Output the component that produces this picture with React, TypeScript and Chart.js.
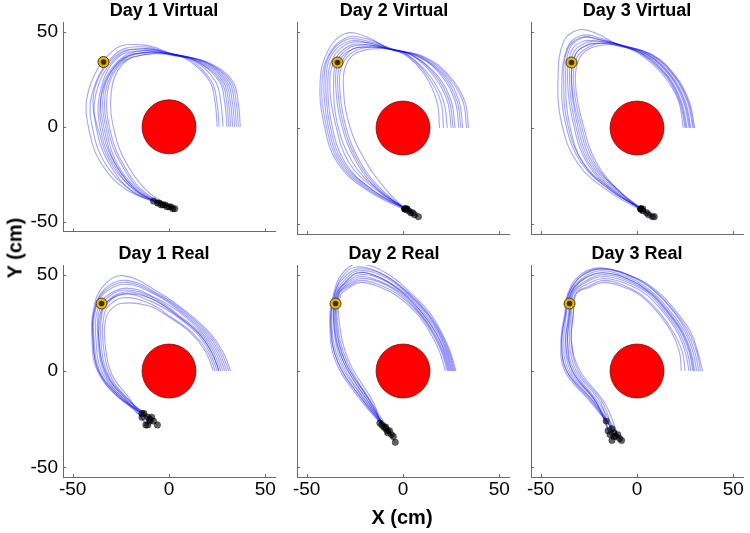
import React, { useEffect, useRef } from "react";
import { Chart, registerables } from "chart.js";

Chart.register(...registerables);

// ---------- data ----------
const AXIS_MIN = -55;
const AXIS_MAX = 55;
const TICK_VALUES = [-50, 0, 50];
const OBSTACLE_CENTER = [0, 0];
const OBSTACLE_RADIUS = 14;

const PANEL_TITLES = [
  "Day 1 Virtual",
  "Day 2 Virtual",
  "Day 3 Virtual",
  "Day 1 Real",
  "Day 2 Real",
  "Day 3 Real",
];

const D1_VIRTUAL_TARGET = [-34, 34];
const D2_VIRTUAL_TARGET = [-34, 34];
const D3_VIRTUAL_TARGET = [-34, 34];
const D1_REAL_TARGET = [-35, 35];
const D2_REAL_TARGET = [-35, 35];
const D3_REAL_TARGET = [-35, 35];

const D1_VIRTUAL_TRAJ = [
  [[37, 0], [36, 12], [33, 24], [21, 33.5], [3, 38], [-14, 43], [-29, 40], [-42, 18], [-41, -4], [-34, -21], [-22, -33], [-8, -39]],
  [[25, 0], [24, 12], [21, 24], [10, 35], [2, 38], [-13, 39], [-26, 34], [-34, 18], [-32, -4], [-26, -21], [-15, -34], [0, -42]],
  [[33, 0], [32, 12], [29, 24], [17, 34], [2, 38], [-13, 41], [-27, 37], [-38, 17], [-37, -4], [-30, -21], [-19, -34], [-4, -41]],
  [[35, 0], [34, 12], [31, 24], [19, 34], [2.5, 37.5], [-12, 38], [-24, 33], [-30, 18], [-28, -4], [-21, -21], [-11, -34], [3, -43]],
  [[30, 0], [29, 12], [26, 24], [14, 34.5], [2, 38], [-14, 42], [-28, 38], [-40, 17], [-39, -4], [-32, -21], [-20, -33], [-6, -40]],
  [[36, 0], [35, 12], [32, 24], [20, 33.5], [3, 38], [-13, 40], [-26, 35], [-35, 18], [-33, -4], [-27, -21], [-16, -34], [-1, -42]],
  [[28, 0], [27, 12], [24, 24], [13, 34.5], [1.5, 38], [-13, 41], [-28, 37], [-39, 18], [-36, -4], [-29, -21], [-18, -33], [-5, -40]],
  [[34, 0], [33, 12], [30, 24], [18, 34], [2, 38], [-12, 39], [-25, 34], [-33, 18], [-31, -4], [-24, -21], [-14, -34], [1, -42]],
  [[26, 0], [25, 12], [22, 24], [11, 35], [2, 37.5], [-13, 40], [-27, 36], [-36, 17], [-35, -4], [-28, -21], [-17, -34], [-2, -41]],
  [[32, 0], [31, 12], [28, 24], [16, 34], [2.5, 38], [-12, 38], [-25, 33], [-32, 18], [-30, -4], [-23, -21], [-13, -34], [2, -43]],
  [[31, 0], [30, 12], [27, 24], [15, 34], [2, 38], [-12, 39], [-25, 35], [-35, 17], [-34, -4], [-27, -21], [-16, -34], [-3, -41]],
];

const D2_VIRTUAL_TRAJ = [
  [[34, 0], [32, 14], [24, 27], [11, 37], [-7, 41], [-18, 47], [-30, 49], [-39, 40], [-43, 24], [-41, 2], [-34, -18], [-19, -32], [6, -45]],
  [[19, 0], [17.5, 14], [11, 28], [1, 38], [-8, 41], [-16, 42], [-26, 41], [-33, 35], [-35, 24], [-32, 2], [-24, -18], [-12, -33], [1, -42]],
  [[31, 0], [29, 14], [22, 27], [9, 37], [-7, 41], [-17, 44], [-28, 44], [-36, 37], [-39, 24], [-37, 2], [-30, -18], [-16, -32], [1, -42]],
  [[27, 0], [25, 14], [18, 27], [6, 37], [-7, 41], [-16, 41], [-24, 39], [-29, 34], [-31, 24], [-28, 2], [-19, -18], [-8, -33], [1, -42]],
  [[33, 0], [31, 14], [23, 27], [10, 37], [-7, 41.5], [-18, 46], [-29, 47], [-38, 39], [-42, 24], [-40, 2], [-33, -18], [-18, -32], [1, -42]],
  [[23, 0], [21, 14], [14, 27], [3, 37.5], [-6, 41], [-18, 45], [-29, 46], [-38, 38], [-41, 24], [-39, 2], [-32, -18], [-17, -32], [3, -43]],
  [[29, 0], [27, 14], [20, 27], [8, 37], [-7, 41], [-17, 43], [-27, 42], [-34, 35], [-36, 24], [-34, 2], [-26, -18], [-13, -32], [8, -46]],
  [[21, 0], [19.5, 14], [12, 28], [2, 38], [-7, 41], [-17, 43], [-27, 43], [-35, 36], [-38, 24], [-35, 2], [-28, -18], [-14, -32], [2, -42]],
  [[30, 0], [28, 14], [21, 27], [8.5, 37], [-7, 41], [-17, 44], [-28, 45], [-37, 38], [-40, 24], [-38, 2], [-31, -18], [-16, -32], [2, -42]],
  [[25, 0], [23, 14], [16, 27], [5, 37.5], [-6, 41], [-16, 42], [-25, 40], [-31, 34], [-33, 24], [-30, 2], [-22, -18], [-10, -33], [4, -44]],
  [[26, 0], [24, 14], [17, 27], [5.5, 37.5], [-7, 41], [-17, 42], [-26, 41], [-32, 34], [-34, 24], [-31, 2], [-23, -18], [-11, -33], [5, -44]],
];

const D3_VIRTUAL_TRAJ = [
  [[30, 0], [27, 14], [20, 27], [8, 38], [-10, 43.5], [-21, 49], [-30, 51], [-38, 45], [-41, 25], [-39, 2], [-31, -18], [-16, -32], [8, -46]],
  [[24, 0], [21.5, 14], [14, 27], [2, 38], [-10, 43.5], [-19, 44], [-26, 43], [-32, 38], [-34, 24], [-31, 2], [-24, -18], [-10, -33], [2, -42]],
  [[28, 0], [25, 14], [18, 27], [6, 38], [-10, 43.5], [-20, 46], [-28, 47], [-35, 41], [-37, 24], [-35, 2], [-28, -18], [-13, -33], [3, -42]],
  [[26, 0], [23, 14], [16, 27], [4, 38], [-11, 43], [-19, 44], [-26, 43], [-32, 38], [-34, 24], [-30, 2], [-23, -18], [-9, -33], [6, -45]],
  [[29, 0], [26, 14], [19, 27], [7, 38], [-10, 43.5], [-20, 47], [-29, 48], [-36, 42], [-39, 24], [-37, 2], [-29, -18], [-14, -32], [2, -42]],
  [[25, 0], [22, 14], [15, 27], [3, 38], [-10, 43.5], [-19, 44], [-25, 42], [-31, 37], [-33, 24], [-29, 2], [-22, -18], [-9, -33], [9, -46]],
  [[27, 0], [24, 14], [17, 27], [5, 38], [-11, 43], [-19, 45], [-27, 44], [-33, 39], [-35, 24], [-32, 2], [-25, -18], [-11, -33], [5, -44]],
  [[29.5, 0], [26.5, 14], [19.5, 27], [7.5, 38], [-10, 43.5], [-20, 46], [-29, 47], [-36, 41], [-38, 24], [-36, 2], [-28, -18], [-13, -32], [3, -43]],
  [[25.5, 0], [22.5, 14], [15.5, 27], [3.5, 38], [-10, 43], [-18, 43], [-25, 41], [-30, 36], [-32, 24], [-28, 2], [-21, -18], [-8, -34], [2, -42]],
  [[27.5, 0], [24.5, 14], [17.5, 27], [5.5, 38], [-10, 43.5], [-20, 45], [-28, 45], [-34, 40], [-36, 24], [-33, 2], [-26, -18], [-12, -33], [2, -42]],
];

const D1_REAL_TRAJ = [
  [[32, 0], [28, 10], [21, 20], [10, 30], [-4, 40], [-24, 49.5], [-35, 43], [-39.5, 30], [-40, 18], [-38, 2], [-28, -12], [-13, -22]],
  [[30, 0], [26, 10], [19, 20], [8, 30], [-5, 39], [-22, 46], [-34, 41], [-39, 30], [-39.5, 18], [-37, 1], [-27, -13], [-11, -24]],
  [[29, 0], [25, 10], [18, 20], [7, 30], [-6, 39], [-22, 45], [-34, 40], [-38.5, 30], [-39, 18], [-36, 0], [-26, -13], [-14, -22]],
  [[28, 0], [24, 10], [17, 20], [6, 30], [-7, 38], [-22, 43], [-33.5, 38], [-37.5, 30], [-38, 18], [-35, 0], [-25, -13], [-10, -26]],
  [[27, 0], [23, 10], [16, 20], [5, 29], [-8, 38], [-23, 42], [-33, 37], [-36.5, 30], [-37, 18], [-34, 0], [-24, -14], [-8, -26]],
  [[26, 0], [22, 10], [15, 20], [4, 29], [-8, 37], [-23, 41], [-33, 35], [-35.5, 28], [-36.5, 18], [-33, -1], [-23, -14], [-11, -28]],
  [[25, 0], [21, 10], [14, 20], [3, 29], [-9, 36], [-24, 40], [-33, 34], [-35, 28], [-35.5, 18], [-32, -1], [-22, -14], [-6, -28]],
  [[24, 0], [20, 10], [12, 20], [1, 28], [-10, 35], [-24, 38], [-32, 33], [-34, 27], [-34.5, 18], [-31, -1], [-21, -15], [-10, -25]],
  [[23, 0], [19, 10], [11, 20], [0, 28], [-11, 34], [-25, 35], [-31, 31], [-33, 26], [-33.5, 18], [-30, -1], [-20, -15], [-12, -28]],
  [[31, 0], [27, 10], [20, 20], [9, 30], [-4, 39], [-22, 47], [-34, 42], [-39, 30], [-39.5, 18], [-37, 1], [-27, -12], [-14, -24]],
  [[26, 0], [22, 10], [15, 20], [4, 29], [-8, 37], [-22, 40], [-32, 36], [-36, 29], [-36.5, 18], [-33, 0], [-23, -14], [-9, -24]],
];

const D2_REAL_TRAJ = [
  [[27.5, 0], [24.5, 10], [20, 20], [14, 30], [4.5, 40], [-9, 51], [-24, 55.5], [-32, 50], [-36, 40], [-38, 25], [-35, 5], [-22, -15], [-11, -28]],
  [[27, 0], [24, 10], [19.5, 20], [13, 30], [3.5, 40], [-10, 50], [-23, 53], [-31, 48], [-35.5, 40], [-37.5, 25], [-34, 5], [-21, -15], [-9, -30]],
  [[26, 0], [23, 10], [18.5, 20], [12, 30], [2.5, 40], [-10, 49], [-23, 52], [-30.5, 47], [-35, 40], [-37, 25], [-33, 5], [-20, -15], [-8, -31]],
  [[25.5, 0], [22.5, 10], [18, 20], [11, 30], [1.5, 40], [-11, 48], [-23, 51], [-30, 46], [-34.5, 40], [-36, 25], [-32, 5], [-19, -16], [-6, -33]],
  [[25, 0], [22, 10], [17, 20], [10, 30], [0.5, 40], [-11, 47.5], [-22, 50], [-29.5, 45.5], [-34, 40], [-35.5, 25], [-31, 5], [-18, -16], [-4, -37]],
  [[24, 0], [21, 10], [16, 20], [9, 30], [-0.5, 40], [-12, 46.5], [-22, 49], [-29, 45], [-33.5, 40], [-35, 25], [-30, 5], [-17, -16], [-10, -29]],
  [[23, 0], [20, 10], [15, 20], [8, 30], [-1.5, 39], [-13, 45], [-22, 47], [-28, 44], [-33, 40], [-34, 25], [-29, 5], [-16, -17], [-7, -31]],
  [[22, 0], [19, 10], [14, 20], [7, 30], [-2.5, 38.5], [-13, 44], [-22, 46], [-27.5, 43.5], [-32.5, 39], [-33, 25], [-28, 5], [-15, -17], [-12, -27]],
  [[26.5, 0], [23.5, 10], [19, 20], [12.5, 30], [3, 40], [-10, 50], [-24, 54], [-31.5, 49], [-35.5, 40], [-37.5, 25], [-34, 5], [-21, -15], [-5, -34]],
  [[24.5, 0], [21.5, 10], [17, 20], [10, 30], [0.5, 40], [-11, 48], [-23, 51], [-30, 46], [-34.5, 40], [-36, 25], [-31, 5], [-18, -16], [-9, -29]],
  [[23.5, 0], [20.5, 10], [15.5, 20], [8.5, 30], [-1, 39.5], [-12, 46], [-22, 48], [-28.5, 44.5], [-33.5, 40], [-34.5, 25], [-30, 5], [-17, -16], [-8, -32]],
];

const D3_REAL_TRAJ = [
  [[34, 0], [31.5, 10], [28, 20], [21, 30], [12, 40], [0, 48], [-19, 53.5], [-30, 49.5], [-36, 40], [-37.5, 30], [-39.5, 15], [-37.5, 0], [-25, -15], [-16, -26]],
  [[32, 0], [30, 10], [26, 20], [19.5, 30], [10.5, 40], [-1, 48], [-18, 53], [-29, 49], [-35.5, 40], [-37, 30], [-39, 15], [-36.5, 0], [-23.5, -16], [-13, -30]],
  [[31, 0], [29, 10], [25, 20], [18, 30], [9, 40], [-2, 47.5], [-18, 52], [-28.5, 48], [-35, 40], [-36.5, 30], [-38, 15], [-35.5, 0], [-22.5, -16], [-12, -32]],
  [[30, 0], [28, 10], [24, 20], [17, 30], [8, 40], [-3, 47], [-18, 51], [-28, 47.5], [-34.5, 40], [-35.5, 30], [-37, 15], [-34.5, 0], [-21.5, -16], [-11, -34]],
  [[29, 0], [27, 10], [23, 20], [16, 30], [7, 40], [-4, 46.5], [-17, 50], [-27, 46.5], [-34, 40], [-35, 30], [-36, 15], [-33.5, 0], [-20.5, -17], [-13, -36]],
  [[28, 0], [26, 10], [22, 20], [15, 30], [6, 40], [-5, 46], [-17, 49], [-26.5, 46], [-33.5, 40], [-34.5, 30], [-36, 15], [-32.5, 0], [-19.5, -17], [-9, -35]],
  [[27, 0], [25, 10], [21, 20], [14, 30], [5, 39.5], [-5, 45], [-17, 48], [-26, 45], [-33, 40], [-34, 30], [-35, 15], [-31.5, 0], [-18.5, -17], [-15, -31]],
  [[25, 0], [23.5, 10], [19, 20], [12, 30], [3, 39], [-6, 44], [-17, 47], [-25, 44], [-32, 40], [-33, 30], [-34, 15], [-29.5, 0], [-16.5, -17], [-10, -33]],
  [[33, 0], [31, 10], [27, 20], [20, 30], [11, 40], [0, 48], [-19, 53], [-29.5, 49], [-35.5, 40], [-37, 30], [-39, 15], [-36.5, 0], [-23.5, -15], [-8, -36]],
  [[29.5, 0], [27.5, 10], [23.5, 20], [16.5, 30], [7.5, 40], [-3, 47], [-18, 51], [-28, 47.5], [-34.5, 40], [-35, 30], [-37, 15], [-33.5, 0], [-21.5, -16], [-14, -33]],
  [[23, 0], [22, 10], [18, 20], [11, 30], [2, 39], [-7, 43.5], [-17, 46], [-24.5, 43.5], [-31.5, 40], [-33, 30], [-34, 15], [-30.5, 0], [-17.5, -17], [-12, -34]],
];

const PANEL_TRAJ = [D1_VIRTUAL_TRAJ, D2_VIRTUAL_TRAJ, D3_VIRTUAL_TRAJ, D1_REAL_TRAJ, D2_REAL_TRAJ, D3_REAL_TRAJ];
const PANEL_TARGET = [D1_VIRTUAL_TARGET, D2_VIRTUAL_TARGET, D3_VIRTUAL_TARGET, D1_REAL_TARGET, D2_REAL_TARGET, D3_REAL_TARGET];

// ---------- layout ----------
const PLOT_SIZE = 212;
const COL_PLOT_LEFT = [63, 297, 531];
const COL_PAD_LEFT = [63, 45, 12];
const COL_TITLE_OFFSET = [-5, -9, 0];
const PAD_RIGHT = 6;
const ROW_PLOT_TOP = [22, 265];
const PAD_TOP = 22;
const ROW_PAD_BOTTOM = [14, 30];

const FONT = '"Liberation Sans", Arial, Helvetica, sans-serif';
const AXIS_COLOR = "#6a6a6a";

const panelDecor = {
  id: "panelDecor",
  afterDraw(chart: any, _args: any, opts: any) {
    const { ctx, chartArea, scales } = chart;
    const x = scales.x;
    const y = scales.y;
    ctx.save();
    ctx.strokeStyle = AXIS_COLOR;
    ctx.lineWidth = 1;
    TICK_VALUES.forEach((v) => {
      const px = Math.round(x.getPixelForValue(v)) + 0.5;
      ctx.beginPath();
      ctx.moveTo(px, chartArea.bottom);
      ctx.lineTo(px, chartArea.bottom - 3);
      ctx.stroke();
      const py = Math.round(y.getPixelForValue(v)) + 0.5;
      ctx.beginPath();
      ctx.moveTo(chartArea.left, py);
      ctx.lineTo(chartArea.left + 3, py);
      ctx.stroke();
    });
    ctx.fillStyle = "#000";
    ctx.font = `bold 18px ${FONT}`;
    ctx.textAlign = "center";
    ctx.textBaseline = "middle";
    ctx.fillText(opts.text, (chartArea.left + chartArea.right) / 2 + opts.offset, chartArea.top - 11);
    ctx.restore();
  },
};

function Panel({ index }: { index: number }) {
  const ref = useRef<HTMLCanvasElement>(null);
  const col = index % 3;
  const row = Math.floor(index / 3);
  const padL = COL_PAD_LEFT[col];
  const padB = ROW_PAD_BOTTOM[row];
  const width = padL + PLOT_SIZE + PAD_RIGHT;
  const height = PAD_TOP + PLOT_SIZE + padB;
  const left = COL_PLOT_LEFT[col] - padL;
  const top = ROW_PLOT_TOP[row] - PAD_TOP;
  const showY = col === 0;
  const showX = row === 1;

  useEffect(() => {
    const traj = PANEL_TRAJ[index];
    const target = PANEL_TARGET[index];
    const pt = (p: number[]) => ({ x: p[0], y: p[1] });
    const datasets: any[] = [];
    datasets.push({
      label: "target center",
      data: [pt(target)],
      pointRadius: 2.8,
      pointBackgroundColor: "#3b2d05",
      pointBorderWidth: 0,
      order: -1,
    });
    datasets.push({
      label: "target",
      data: [pt(target)],
      pointRadius: 5.5,
      pointBackgroundColor: "#e8b400",
      pointBorderColor: "#4a3800",
      pointBorderWidth: 1,
      order: 0,
    });
    datasets.push({
      label: "end points",
      data: traj.map((t) => pt(t[t.length - 1])),
      pointRadius: 3.2,
      pointBackgroundColor: "rgba(0,0,0,0.6)",
      pointBorderColor: "rgba(0,0,0,0.35)",
      pointBorderWidth: 1,
      order: 1,
    });
    datasets.push({
      label: "obstacle",
      data: [pt(OBSTACLE_CENTER)],
      pointRadius: (c: any) => {
        const s = c.chart.scales.x;
        return Math.abs(s.getPixelForValue(OBSTACLE_RADIUS) - s.getPixelForValue(0));
      },
      pointBackgroundColor: "#ff0000",
      pointBorderColor: "#6b0000",
      pointBorderWidth: 0.7,
      order: 2,
    });
    traj.forEach((t, i) => {
      datasets.push({
        label: "trial " + (i + 1),
        data: t.map(pt),
        showLine: true,
        borderColor: "rgba(10,10,240,0.37)",
        borderWidth: 1.1,
        pointRadius: 0,
        tension: 0.4,
        fill: false,
        order: 3,
      });
    });

    const tickFont = { family: FONT, size: 19 };
    const chart = new Chart(ref.current as HTMLCanvasElement, {
      type: "scatter",
      data: { datasets },
      plugins: [panelDecor],
      options: {
        animation: false,
        responsive: false,
        events: [],
        layout: { padding: { top: PAD_TOP, right: PAD_RIGHT, left: 0, bottom: 0 }, autoPadding: false },
        plugins: {
          legend: { display: false },
          tooltip: { enabled: false },
          title: { display: false },
          panelDecor: { text: PANEL_TITLES[index], offset: COL_TITLE_OFFSET[col] },
        } as any,
        scales: {
          x: {
            type: "linear",
            min: AXIS_MIN,
            max: AXIS_MAX,
            afterBuildTicks: (s: any) => {
              s.ticks = TICK_VALUES.map((v) => ({ value: v }));
            },
            afterFit: (s: any) => {
              s.height = padB;
            },
            grid: { display: false, drawTicks: false },
            border: { display: true, color: AXIS_COLOR, width: 1 },
            ticks: {
              display: showX,
              font: tickFont,
              color: "#000",
              padding: 1,
              maxRotation: 0,
              autoSkip: false,
              callback: (v: any) => String(v),
            },
          },
          y: {
            type: "linear",
            min: AXIS_MIN,
            max: AXIS_MAX,
            afterBuildTicks: (s: any) => {
              s.ticks = TICK_VALUES.map((v) => ({ value: v }));
            },
            afterFit: (s: any) => {
              s.width = padL;
            },
            grid: { display: false, drawTicks: false },
            border: { display: true, color: AXIS_COLOR, width: 1 },
            ticks: {
              display: showY,
              font: tickFont,
              color: "#000",
              padding: 5,
              autoSkip: false,
              callback: (v: any) => String(v),
            },
          },
        },
      } as any,
    });
    return () => chart.destroy();
  }, [index]);

  return (
    <canvas
      ref={ref}
      width={width}
      height={height}
      style={{ position: "absolute", left, top, width, height }}
    />
  );
}

export default function App() {
  return (
    <div
      style={{
        position: "absolute",
        left: 0,
        top: 0,
        width: 750,
        height: 533,
        overflow: "hidden",
        background: "#fff",
      }}
    >
      {PANEL_TITLES.map((_, i) => (
        <Panel key={i} index={i} />
      ))}
      <div
        style={{
          position: "absolute",
          left: 402,
          top: 517,
          transform: "translate(-50%, -50%)",
          font: `bold 20px ${FONT}`,
          whiteSpace: "nowrap",
          color: "#000",
        }}
      >
        X (cm)
      </div>
      <div
        style={{
          position: "absolute",
          left: 15,
          top: 248,
          transform: "translate(-50%, -50%) rotate(-90deg)",
          font: `bold 20px ${FONT}`,
          whiteSpace: "nowrap",
          color: "#000",
        }}
      >
        Y (cm)
      </div>
    </div>
  );
}
